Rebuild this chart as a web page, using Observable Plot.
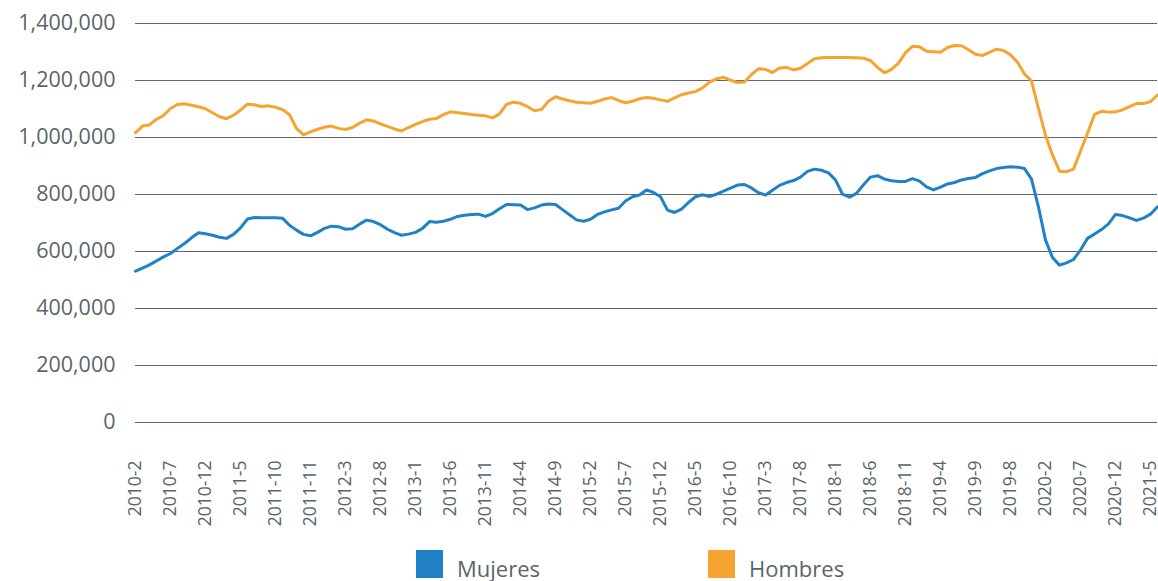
<!DOCTYPE html>
<html>
<head>
<meta charset="utf-8">
<script src="https://cdn.jsdelivr.net/npm/d3@7"></script>
<script src="https://cdn.jsdelivr.net/npm/@observablehq/plot@0.6"></script>
<style>
  html, body { margin: 0; padding: 0; background: #fff; }
  #wrap { position: relative; width: 1158px; height: 581px; overflow: hidden; font-family: "Open Sans", sans-serif; }
  .legend-item { position: absolute; top: 550px; display: flex; align-items: flex-start; color: #5a6569; font-size: 22px; line-height: 28px; }
  .legend-item .sw { width: 27px; height: 28px; margin-right: 14px; }
</style>
</head>
<body>
<div id="wrap"></div>
<script>
const tickLabels = ["2010-2","2010-7","2010-12","2011-5","2011-10","2011-11","2012-3","2012-8","2013-1","2013-6","2013-11","2014-4","2014-9","2015-2","2015-7","2015-12","2016-5","2016-10","2017-3","2017-8","2018-1","2018-6","2018-11","2019-4","2019-9","2019-8","2020-2","2020-7","2020-12","2021-5"];

const seriesNames = ["Mujeres", "Hombres"];
const seriesColors = ["#2181c6", "#f5a431"];

const mujeres = [531000,542000,553000,567000,581000,593000,611000,628000,648000,666000,
662000,657000,650000,646000,660000,683000,714000,719000,718000,718000,
718000,717000,692000,675000,660000,655000,667000,681000,689000,687000,
678000,680000,696000,710000,705000,694000,678000,666000,657000,661000,
667000,681000,705000,703000,706000,713000,723000,727000,730000,731000,
723000,733000,750000,765000,764000,763000,747000,753000,763000,767000,
765000,747000,729000,711000,706000,713000,730000,739000,746000,752000,
777000,792000,798000,816000,807000,792000,745000,737000,749000,772000,
792000,799000,793000,801000,812000,822000,833000,835000,823000,806000,
798000,815000,832000,842000,849000,861000,881000,889000,885000,876000,
851000,801000,791000,804000,834000,861000,866000,854000,848000,846000,
846000,856000,847000,827000,816000,826000,837000,842000,851000,856000,
860000,873000,883000,891000,895000,897000,896000,891000,854000,756000,
640000,579000,552000,560000,572000,605000,646000,661000,677000,697000,
730000,726000,718000,709000,717000,731000,757000];

const hombres = [1017000,1040000,1044000,1064000,1077000,1102000,1116000,1118000,1113000,1108000,
1101000,1087000,1073000,1066000,1078000,1096000,1117000,1115000,1109000,1111000,
1106000,1098000,1080000,1032000,1009000,1020000,1029000,1036000,1040000,1032000,
1028000,1035000,1050000,1062000,1058000,1048000,1039000,1030000,1023000,1035000,
1046000,1056000,1064000,1067000,1080000,1090000,1087000,1084000,1081000,1078000,
1076000,1069000,1083000,1116000,1124000,1120000,1108000,1094000,1098000,1127000,
1143000,1135000,1129000,1124000,1122000,1120000,1127000,1135000,1140000,1130000,
1122000,1127000,1136000,1140000,1138000,1132000,1127000,1139000,1150000,1156000,
1161000,1174000,1194000,1206000,1211000,1201000,1193000,1195000,1221000,1241000,
1239000,1228000,1244000,1246000,1237000,1243000,1260000,1276000,1280000,1281000,
1281000,1281000,1281000,1280000,1278000,1270000,1246000,1227000,1239000,1261000,
1298000,1320000,1318000,1303000,1301000,1299000,1316000,1323000,1322000,1308000,
1292000,1288000,1299000,1310000,1305000,1290000,1264000,1223000,1198000,1101000,
1008000,939000,882000,880000,889000,952000,1015000,1081000,1092000,1089000,
1090000,1097000,1108000,1119000,1119000,1126000,1149000];

const yTicks = [0,200000,400000,600000,800000,1000000,1200000,1400000];

const rows = [];
mujeres.forEach((v, i) => rows.push({i, v, s: "Mujeres"}));
hombres.forEach((v, i) => rows.push({i, v, s: "Hombres"}));

const xTicks = tickLabels.map((_, k) => k * 5);

const chart = Plot.plot({
  width: 1158,
  height: 532,
  marginLeft: 135,
  marginRight: 1,
  marginTop: 23,
  marginBottom: 110,
  style: {fontFamily: "Open Sans, sans-serif", color: "#5a6569", background: "#fff", overflow: "visible"},
  x: {domain: [0, mujeres.length - 1], axis: null, label: null},
  y: {domain: [0, 1400000], axis: null, label: null},
  color: {domain: seriesNames, range: seriesColors},
  marks: [
    Plot.ruleY(yTicks, {stroke: "#5d686c", strokeWidth: 1.2}),
    Plot.axisY({ticks: yTicks, tickFormat: d3.format(","), tickSize: 0, tickPadding: 20, fontSize: 21.5, fill: "#5a6569", label: null}),
    Plot.axisX({ticks: xTicks, tickFormat: d => tickLabels[d / 5], tickRotate: -90, tickSize: 0, tickPadding: 38, fontSize: 17.5, fill: "#5a6569", label: null}),
    Plot.line(rows, {x: "i", y: "v", z: "s", stroke: "s", strokeWidth: 3, curve: "linear"})
  ]
});

const wrap = document.getElementById("wrap");
wrap.appendChild(chart);

const legendLefts = [416, 708];
seriesNames.forEach((name, k) => {
  const item = document.createElement("div");
  item.className = "legend-item";
  item.style.left = legendLefts[k] + "px";
  const sw = document.createElement("div");
  sw.className = "sw";
  sw.style.background = seriesColors[k];
  const lab = document.createElement("span");
  lab.textContent = name;
  lab.style.marginTop = "4px";
  item.appendChild(sw);
  item.appendChild(lab);
  wrap.appendChild(item);
});
</script>
</body>
</html>
